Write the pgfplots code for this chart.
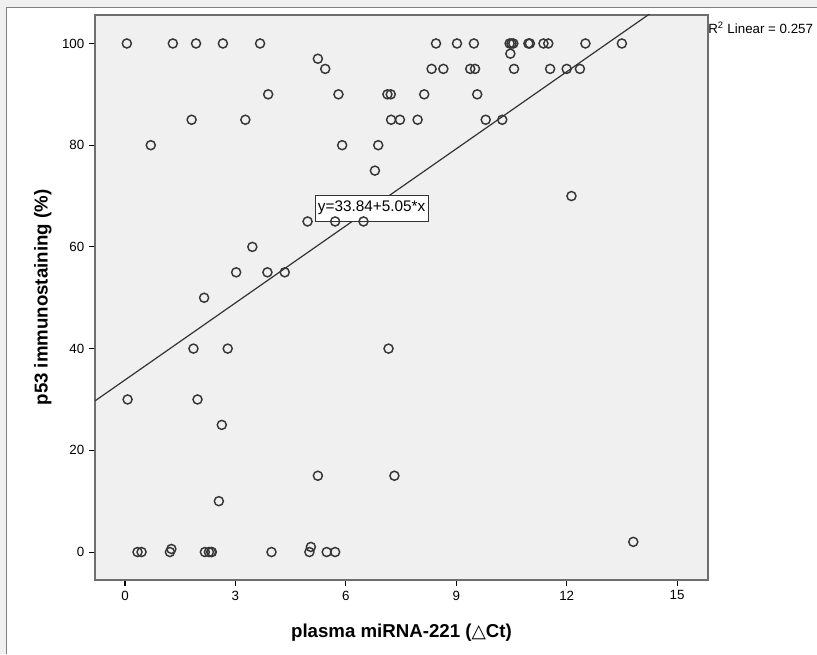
\documentclass[border=0pt]{standalone}
\usepackage{fontspec}
\setmainfont{Liberation Sans}
\newfontfamily\dejavu{DejaVu Sans}
\usepackage{pgfplots}
\pgfplotsset{compat=1.18}
\definecolor{bggray}{RGB}{240,240,240}
\definecolor{framegray}{RGB}{110,110,110}
\definecolor{markgray}{RGB}{55,55,55}
\pgfplotstableread{
x y
0.05 100
1.30 100
1.93 100
2.66 100
3.67 100
8.45 100
9.02 100
9.48 100
10.45 100
10.50 100
10.55 100
10.96 100
11.00 100
11.37 100
11.50 100
12.51 100
13.50 100
10.47 98
5.24 97
5.44 95
8.33 95
8.65 95
9.38 95
9.51 95
10.57 95
11.55 95
12.00 95
12.36 95
3.89 90
5.80 90
7.13 90
7.22 90
8.13 90
9.57 90
1.81 85
3.27 85
7.23 85
7.47 85
7.95 85
9.80 85
10.25 85
0.70 80
5.90 80
6.88 80
6.79 75
12.13 70
4.96 65
5.71 65
6.48 65
3.46 60
3.02 55
3.87 55
4.34 55
2.15 50
1.86 40
2.79 40
7.16 40
0.07 30
1.97 30
2.63 25
5.24 15
7.32 15
2.55 10
13.81 2
0.34 0
0.45 0
1.22 0
1.26 0.6
2.17 0
2.28 0
2.34 0
2.36 0
3.98 0
5.01 0
5.05 1
5.48 0
5.71 0
}\pts
\begin{document}
\begin{tikzpicture}
\clip (0,0) rectangle (612.75pt,490.5pt);
\fill[bggray] (0,0) rectangle (612.75pt,490.5pt);
\fill[white] (4.5pt,0) rectangle (612.75pt,485.25pt);
\draw[gray,line width=0.6pt] (4.5pt,0) -- (4.5pt,485.25pt) -- (612.75pt,485.25pt);
\begin{axis}[
  at={(71.25pt,55.5pt)}, anchor=south west,
  scale only axis, width=459.75pt, height=423.75pt,
  xmin=-0.815, xmax=15.84, ymin=-5.5, ymax=105.6,
  axis background/.style={fill=bggray},
  axis line style={framegray,line width=1.1pt},
  xtick={0,3,...,15}, ytick={0,20,...,100},
  tick align=outside, xtick pos=bottom, ytick pos=left,
  major tick length=4.5pt,
  tick style={black,line width=0.8pt},
  ticklabel style={font=\fontsize{10}{12}\selectfont},
  /pgf/number format/assume math mode=true,
  xlabel={\bfseries plasma miRNA-221 ({\dejavu\mdseries △}Ct)},
  ylabel={\bfseries p53 immunostaining (\%)},
  label style={font=\fontsize{14}{16}\selectfont},
  xlabel style={yshift=-11pt},
  ylabel style={yshift=1pt},
]
\addplot[only marks, mark=o, mark size=3.4pt, mark options={markgray,line width=1.1pt}] table[x=x,y=y] {\pts};
\addplot[black!80, line width=0.9pt] coordinates {(-0.815,29.72) (15.84,113.83)};
\node[draw=black!80, fill=white, inner xsep=2pt, inner ysep=4.5pt, font=\fontsize{11.5}{13}\selectfont] at (axis cs:6.70,67.66) {y=33.84+5.05*x};
\end{axis}
\node[anchor=west, inner sep=0pt, font=\fontsize{10}{12}\selectfont] at (531pt,469.5pt) {R\textsuperscript{2} Linear = 0.257};
\end{tikzpicture}
\end{document}
